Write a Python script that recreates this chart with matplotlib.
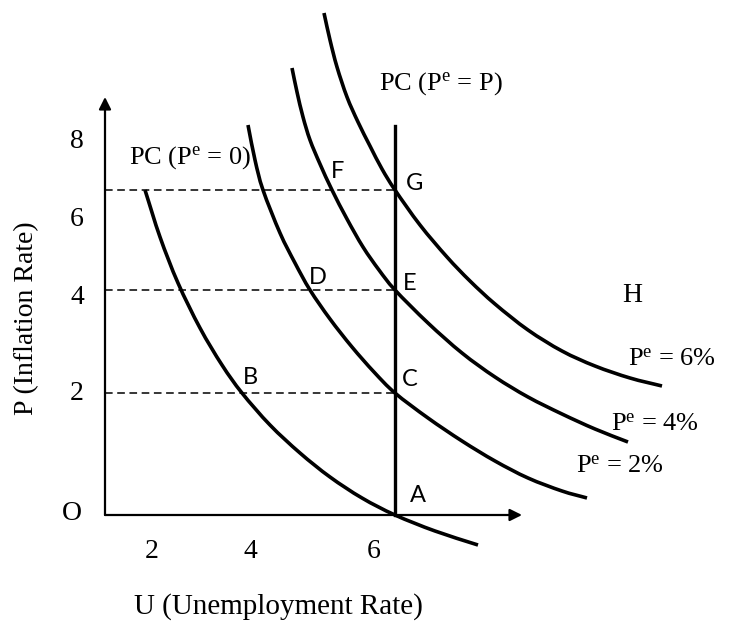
import matplotlib
matplotlib.use("Agg")
from matplotlib import pyplot as plt
from matplotlib.path import Path
from matplotlib.patches import PathPatch
import numpy as np

plt.rcParams['font.family'] = ['Liberation Serif', 'DejaVu Serif']
plt.rcParams['mathtext.fontset'] = 'custom'
plt.rcParams['mathtext.rm'] = 'Liberation Serif'
plt.rcParams['mathtext.it'] = 'Liberation Serif:italic'

# diagram units: U along x, P along y
u_natural = 5.8
p_levels = [2.44, 4.5, 6.5]

# short-run Phillips curves, one per expected inflation
pc0_u = [0.80, 1.10, 1.46, 1.90, 2.34, 2.74, 3.30, 3.90, 4.50, 5.14, 5.80, 6.60, 7.46]
pc0_p = [6.50, 5.56, 4.64, 3.74, 3.00, 2.44, 1.80, 1.24, 0.76, 0.34, 0.00, -0.32, -0.60]

pc2_u = [2.86, 3.00, 3.16, 3.50, 3.80, 4.10, 4.50, 4.94, 5.38, 5.80, 6.46, 7.14, 7.80, 8.46, 9.14, 9.64]
pc2_p = [7.80, 7.10, 6.50, 5.64, 5.04, 4.50, 3.92, 3.36, 2.86, 2.44, 1.94, 1.48, 1.08, 0.74, 0.48, 0.34]

pc4_u = [3.74, 3.84, 3.96, 4.10, 4.30, 4.54, 4.84, 5.16, 5.48, 5.80, 6.46, 7.14, 7.80, 8.46, 9.14, 9.80, 10.46]
pc4_p = [8.94, 8.46, 7.96, 7.50, 7.02, 6.50, 5.92, 5.36, 4.90, 4.50, 3.84, 3.24, 2.76, 2.36, 2.02, 1.72, 1.46]

pc6_u = [4.38, 4.50, 4.64, 4.84, 5.06, 5.30, 5.54, 5.80, 6.30, 6.84, 7.30, 7.80, 8.46, 9.14, 9.80, 10.50, 11.14]
pc6_p = [10.04, 9.50, 8.96, 8.36, 7.86, 7.38, 6.92, 6.50, 5.80, 5.16, 4.68, 4.22, 3.70, 3.28, 2.98, 2.74, 2.58]

y_tick_labels = ['8', '6', '4', '2']
y_tick_pos = [7.46, 5.90, 4.34, 2.44]
x_tick_labels = ['2', '4', '6']
x_tick_pos = [0.94, 2.90, 5.38]

points = ['F', 'G', 'D', 'E', 'B', 'C', 'A']
points_u = [4.66, 6.20, 4.26, 6.10, 2.90, 6.10, 6.26]
points_p = [6.86, 6.62, 4.76, 4.64, 2.74, 2.70, 0.40]

curve_names = [r'P$^{\mathrm{e}}$ = 6%', r'P$^{\mathrm{e}}$ = 4%', r'P$^{\mathrm{e}}$ = 2%']
curve_name_u = [11.34, 11.00, 10.30]
curve_name_p = [3.10, 1.80, 0.96]


def smooth_path(xs, ys):
    # Catmull-Rom through the points, written as cubic Bezier segments
    pts = np.column_stack([xs, ys])
    ext = np.vstack([2 * pts[0] - pts[1], pts, 2 * pts[-1] - pts[-2]])
    verts = [pts[0]]
    codes = [Path.MOVETO]
    for i in range(1, len(ext) - 2):
        p0, p1, p2, p3 = ext[i - 1], ext[i], ext[i + 1], ext[i + 2]
        verts += [p1 + (p2 - p0) / 6, p2 - (p3 - p1) / 6, p2]
        codes += [Path.CURVE4] * 3
    return Path(verts, codes)


fig = plt.figure(figsize=(7.33, 6.25), dpi=100)
ax = fig.add_axes([0, 0, 1, 1])
ax.set_xlim(-2.1, 12.56)
ax.set_ylim(-2.2, 10.3)
ax.axis('off')

# axes with arrow heads
arrow = dict(arrowstyle='-|>', color='black', lw=1.6, mutation_scale=18, shrinkA=0, shrinkB=0)
ax.annotate('', xy=(0, 8.36), xytext=(0, 0), arrowprops=arrow)
ax.annotate('', xy=(8.34, 0), xytext=(0, 0), arrowprops=arrow)

# dashed guides to the vertical long-run curve
for p in p_levels:
    ax.plot([0, u_natural], [p, p], color='black', lw=1.1, ls=(0, (5, 3)))

ax.plot([u_natural, u_natural], [0, 7.78], color='black', lw=2.4)

for uu, pp in [(pc0_u, pc0_p), (pc2_u, pc2_p), (pc4_u, pc4_p), (pc6_u, pc6_p)]:
    ax.add_patch(PathPatch(smooth_path(uu, pp), fill=False, edgecolor='black', lw=2.6, capstyle='butt'))

for lab, pos in zip(y_tick_labels, y_tick_pos):
    ax.text(-0.56, pos, lab, fontsize=20, ha='center', va='center')
ax.text(-0.66, 0.02, 'O', fontsize=20, ha='center', va='center')
for lab, pos in zip(x_tick_labels, x_tick_pos):
    ax.text(pos, -0.72, lab, fontsize=20, ha='center', va='center')

ax.text(3.46, -1.84, 'U (Unemployment Rate)', fontsize=21, ha='center', va='center')
ax.text(-1.56, 3.94, 'P (Inflation Rate)', fontsize=20, ha='center', va='center', rotation=90)

ax.text(1.70, 7.14, r'PC (P$^{\mathrm{e}}$ = 0)', fontsize=19, ha='center', va='center')
ax.text(6.72, 8.62, r'PC (P$^{\mathrm{e}}$ = P)', fontsize=19, ha='center', va='center')
ax.text(10.54, 4.38, 'H', fontsize=20, ha='center', va='center')

for lab, uu, pp in zip(points, points_u, points_p):
    ax.text(uu, pp, lab, fontsize=17, family='Lato', ha='center', va='center')

for lab, uu, pp in zip(curve_names, curve_name_u, curve_name_p):
    ax.text(uu, pp, lab, fontsize=19, ha='center', va='center')

fig.savefig('out.png', dpi=100)
